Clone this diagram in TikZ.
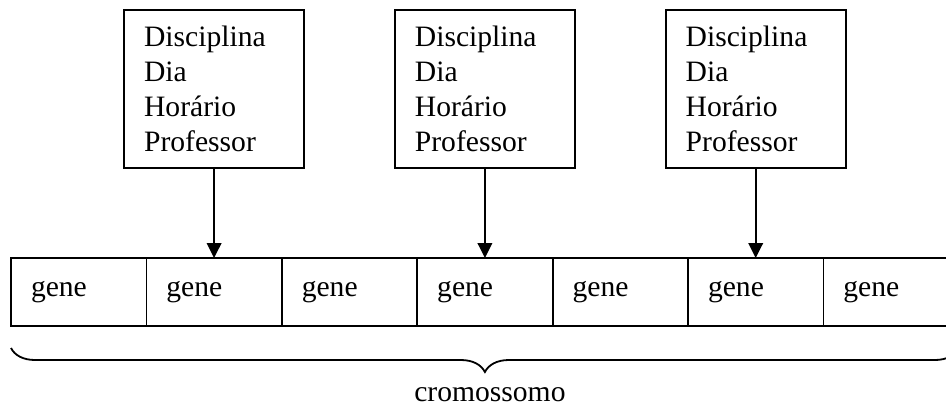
\documentclass[tikz,border=0pt]{standalone}
\usepackage{fontspec}
\setmainfont{Liberation Serif}
\usetikzlibrary{positioning,arrows.meta,decorations.pathreplacing}

\tikzset{
  gene/.style={draw, line width=0.9pt, outer sep=0pt, minimum width=67.7pt,
    minimum height=34pt, text width=47.7pt, inner xsep=10pt, align=left},
  attr/.style={draw, line width=0.9pt, outer sep=0pt, minimum width=90pt,
    minimum height=79pt, text width=70pt, inner xsep=10pt, align=left},
  link/.style={line width=0.9pt, -{Triangle[width=7.3pt,length=7.5pt]}}
}
\newcommand\genebox[2]{\node[gene, right=0pt of #2] (#1) {gene};}
\newcommand\attrbox[2]{
  \node[attr, above=45pt of #2] (#1) {Disciplina\\Dia\\Horário\\Professor};
  \draw[link] (#1.south) -- (#2.north);
}

\begin{document}
\begin{tikzpicture}[x=0.5pt, y=-0.5pt, font=\fontsize{14.8pt}{17.5pt}\selectfont]
    \useasboundingbox (0,0) rectangle (946,408);

    % chromosome row
    \node[gene, anchor=north west] (g1) at (11,258) {gene};
    \genebox{g2}{g1}
    \genebox{g3}{g2}
    \genebox{g4}{g3}
    \genebox{g5}{g4}
    \genebox{g6}{g5}
    \genebox{g7}{g6}

    % attribute boxes to genes
    \attrbox{a1}{g2}
    \attrbox{a2}{g4}
    \attrbox{a3}{g6}

    % brace under the row
    \draw[line width=0.9pt, decorate, decoration={brace, mirror, amplitude=12pt}]
        ([yshift=-11pt]g1.south west) -- ([yshift=-11pt]g7.south east);
    \path (g1.south west) -- (g7.south east)
        node[midway, anchor=base, xshift=2.5pt, yshift=-37.5pt] (cromo) {cromossomo};
\end{tikzpicture}
\end{document}
